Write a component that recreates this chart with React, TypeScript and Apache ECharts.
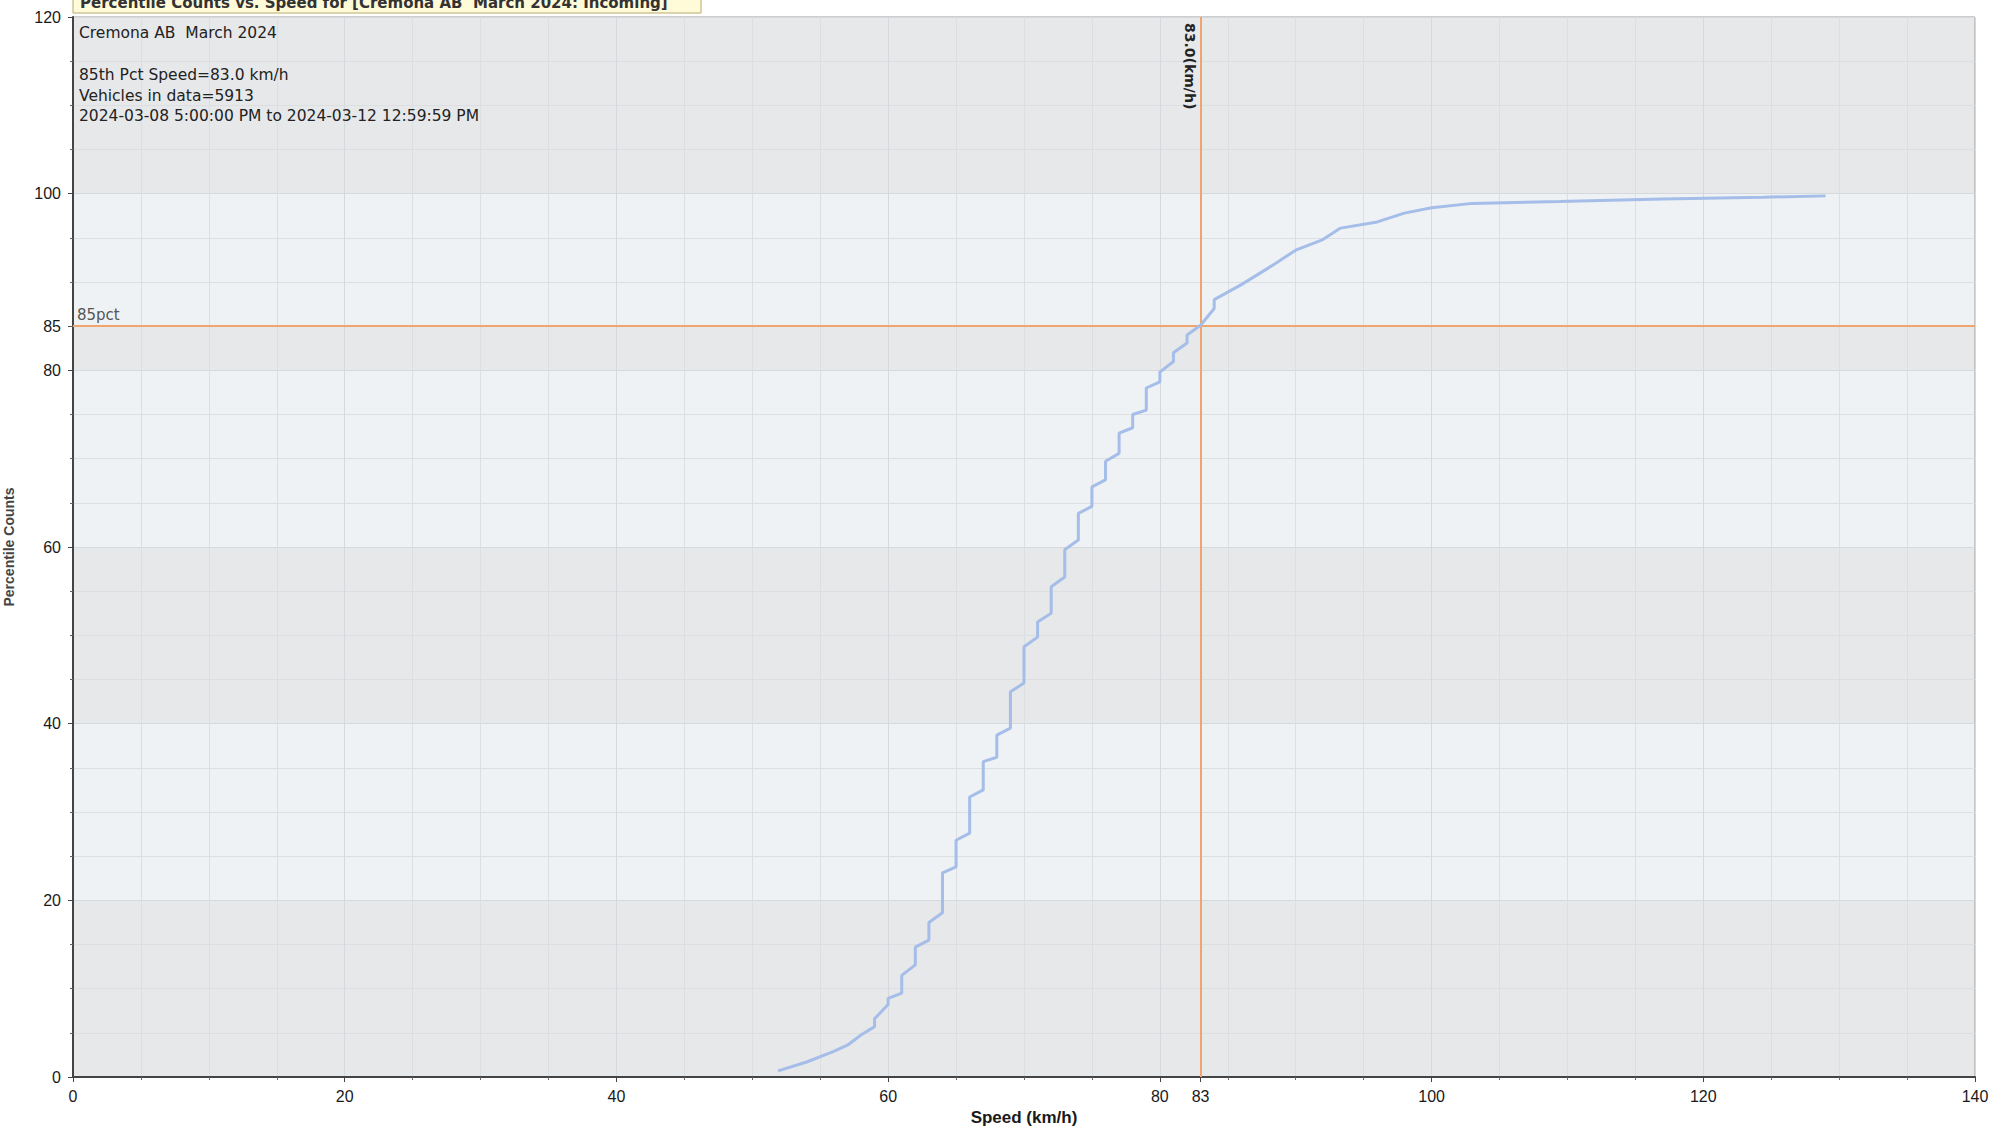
import React, { useEffect, useRef } from "react";
import * as echarts from "echarts";

// Cumulative percentile curve (speed km/h, cumulative %)
const speedKmh = [
  51.9, 54.0, 56.0, 57.0, 58.0,
  59.0, 59.0, 60.0, 60.0, 61.0, 61.0, 62.0, 62.0, 63.0, 63.0,
  64.0, 64.0, 65.0, 65.0, 66.0, 66.0, 67.0, 67.0, 68.0, 68.0,
  69.0, 69.0, 70.0, 70.0, 71.0, 71.0, 72.0, 72.0, 73.0, 73.0,
  74.0, 74.0, 75.0, 75.0, 76.0, 76.0, 77.0, 77.0, 78.0, 78.0,
  79.0, 79.0, 80.0, 80.0, 81.0, 81.0, 82.0, 82.0, 83.0,
  84.0, 84.0, 86.0, 88.0, 90.0, 92.0, 93.3, 96.0, 98.0, 100.0,
  103.0, 109.4, 117.0, 124.4, 129.0,
];
const cumulativePct = [
  0.7, 1.7, 2.9, 3.6, 4.75,
  5.7, 6.6, 8.2, 8.9, 9.5, 11.5, 12.7, 14.7, 15.5, 17.5,
  18.6, 23.1, 23.8, 26.8, 27.6, 31.7, 32.5, 35.7, 36.2, 38.7,
  39.5, 43.6, 44.6, 48.7, 49.8, 51.5, 52.5, 55.5, 56.6, 59.7,
  60.8, 63.8, 64.6, 66.8, 67.6, 69.7, 70.6, 72.9, 73.5, 75.0,
  75.5, 78.0, 78.7, 79.8, 81.0, 82.0, 83.1, 84.0, 85.1,
  87.0, 88.0, 89.7, 91.6, 93.6, 94.8, 96.1, 96.8, 97.8, 98.4,
  98.9, 99.1, 99.4, 99.6, 99.75,
];

const xLabelValues = [0, 20, 40, 60, 80, 83, 100, 120, 140];
const yLabelValues = [0, 20, 40, 60, 80, 85, 100, 120];
const bandEdges = [0, 20, 40, 60, 80, 85, 100, 120];

const pct85Speed = 83;
const pct85Level = 85;
const pct85SpeedLabel = "83.0(km/h)";
const pct85LevelLabel = "85pct";

const chartTitle = "Percentile Counts vs. Speed for [Cremona AB  March 2024: Incoming]";
const siteTitle = "Cremona AB  March 2024";
const infoLines = [
  "85th Pct Speed=83.0 km/h",
  "Vehicles in data=5913",
  "2024-03-08 5:00:00 PM to 2024-03-12 12:59:59 PM",
];
const xAxisName = "Speed (km/h)";
const yAxisName = "Percentile Counts";

const DARK_BAND = "#e7e8ea";
const LIGHT_BAND = "#eff2f4";
const ORANGE = "#f0a46e";

export default function App() {
  const ref = useRef<HTMLDivElement>(null);

  useEffect(() => {
    const chart = echarts.init(ref.current!, null, { renderer: "svg" });

    const bands: any[] = [];
    for (let i = 0; i < bandEdges.length - 1; i++) {
      bands.push([
        { yAxis: bandEdges[i], itemStyle: { color: i % 2 === 0 ? DARK_BAND : LIGHT_BAND } },
        { yAxis: bandEdges[i + 1] },
      ]);
    }

    const lineData = speedKmh.map((s, i) => [s, cumulativePct[i]]);

    chart.setOption({
      animation: false,
      backgroundColor: "#ffffff",
      grid: {
        left: 73,
        right: 32,
        top: 17,
        bottom: 66,
        containLabel: false,
        outerBoundsMode: "none",
        show: true,
        borderColor: "#9a9a9a",
        borderWidth: 1,
      },
      xAxis: {
        type: "value",
        min: 0,
        max: 140,
        interval: 20,
        name: xAxisName,
        nameLocation: "middle",
        nameGap: 30,
        nameTextStyle: {
          fontFamily: "Liberation Sans",
          fontSize: 17,
          fontWeight: "bold",
          color: "#1a1a1a",
        },
        axisLine: { show: true, onZero: false, lineStyle: { color: "#444", width: 2 } },
        axisTick: { show: true, length: 5, lineStyle: { color: "#444" }, customValues: xLabelValues },
        minorTick: { show: true, splitNumber: 4, length: 3, lineStyle: { color: "#666" } },
        axisLabel: {
          customValues: xLabelValues,
          margin: 11,
          fontFamily: "Liberation Sans",
          fontSize: 16,
          color: "#1a1a1a",
        },
        splitLine: { show: true, lineStyle: { color: "#d5d8dc", width: 1 } },
        minorSplitLine: { show: true, lineStyle: { color: "#dcdfe2", width: 1 } },
      },
      yAxis: {
        type: "value",
        min: 0,
        max: 120,
        interval: 20,
        name: yAxisName,
        nameLocation: "middle",
        nameGap: 57,
        nameTextStyle: {
          fontFamily: "Liberation Sans",
          fontSize: 14,
          fontWeight: "bold",
          color: "#444",
        },
        axisLine: { show: true, lineStyle: { color: "#444", width: 2 } },
        axisTick: { show: true, length: 5, lineStyle: { color: "#444" }, customValues: yLabelValues },
        minorTick: { show: true, splitNumber: 4, length: 3, lineStyle: { color: "#666" } },
        axisLabel: {
          customValues: yLabelValues,
          margin: 12,
          fontFamily: "Liberation Sans",
          fontSize: 16,
          color: "#1a1a1a",
        },
        splitLine: { show: true, lineStyle: { color: "#d5d8dc", width: 1 } },
        minorSplitLine: { show: true, lineStyle: { color: "#dcdfe2", width: 1 } },
      },
      series: [
        {
          type: "line",
          name: "bands",
          data: [],
          silent: true,
          markArea: {
            silent: true,
            z: -1,
            data: bands,
          },
        },
        {
          type: "line",
          name: "Percentile",
          data: lineData,
          showSymbol: false,
          symbol: "none",
          silent: true,
          z: 4,
          lineStyle: { color: "#a5bde9", width: 3 },
          markLine: {
            silent: true,
            symbol: "none",
            z: 3,
            lineStyle: { color: ORANGE, width: 2, type: "solid" },
            data: [
              { xAxis: pct85Speed, label: { show: false } },
              {
                yAxis: pct85Level,
                label: {
                  show: true,
                  position: "insideStartTop",
                  formatter: pct85LevelLabel,
                  fontFamily: "DejaVu Sans",
                  fontSize: 15,
                  color: "#555",
                  distance: 4,
                },
              },
            ],
          },
        },
      ],
    });

    const [lineX, topY] = chart.convertToPixel({ gridIndex: 0 }, [pct85Speed, 120]) as number[];

    const textFont = '15.5px "DejaVu Sans"';
    chart.setOption({
      graphic: [
        {
          type: "rect",
          shape: { x: 73, y: -6, width: 628, height: 19 },
          style: { fill: "#fffbd8", stroke: "#b6a86a", lineWidth: 1 },
          z: 10,
        },
        {
          type: "text",
          x: 80,
          y: 3,
          z: 11,
          style: {
            text: chartTitle,
            font: 'bold 15px "DejaVu Sans"',
            fill: "#333",
            align: "left",
            verticalAlign: "middle",
          },
        },
        {
          type: "text",
          x: 79,
          y: 33,
          z: 11,
          style: { text: siteTitle, font: textFont, fill: "#222", align: "left", verticalAlign: "middle" },
        },
        ...infoLines.map((t, i) => ({
          type: "text",
          x: 79,
          y: 75 + i * 20.5,
          z: 11,
          style: { text: t, font: textFont, fill: "#222", align: "left", verticalAlign: "middle" },
        })),
        {
          type: "text",
          x: lineX - 4,
          y: topY + 6,
          rotation: -Math.PI / 2,
          z: 11,
          style: {
            text: pct85SpeedLabel,
            font: 'bold 14px "DejaVu Sans"',
            fill: "#222",
            align: "left",
            verticalAlign: "top",
          },
        },
      ],
    });

    return () => chart.dispose();
  }, []);

  return (
    <div
      ref={ref}
      style={{ position: "fixed", left: 0, top: 0, width: 2007, height: 1143 }}
    />
  );
}
